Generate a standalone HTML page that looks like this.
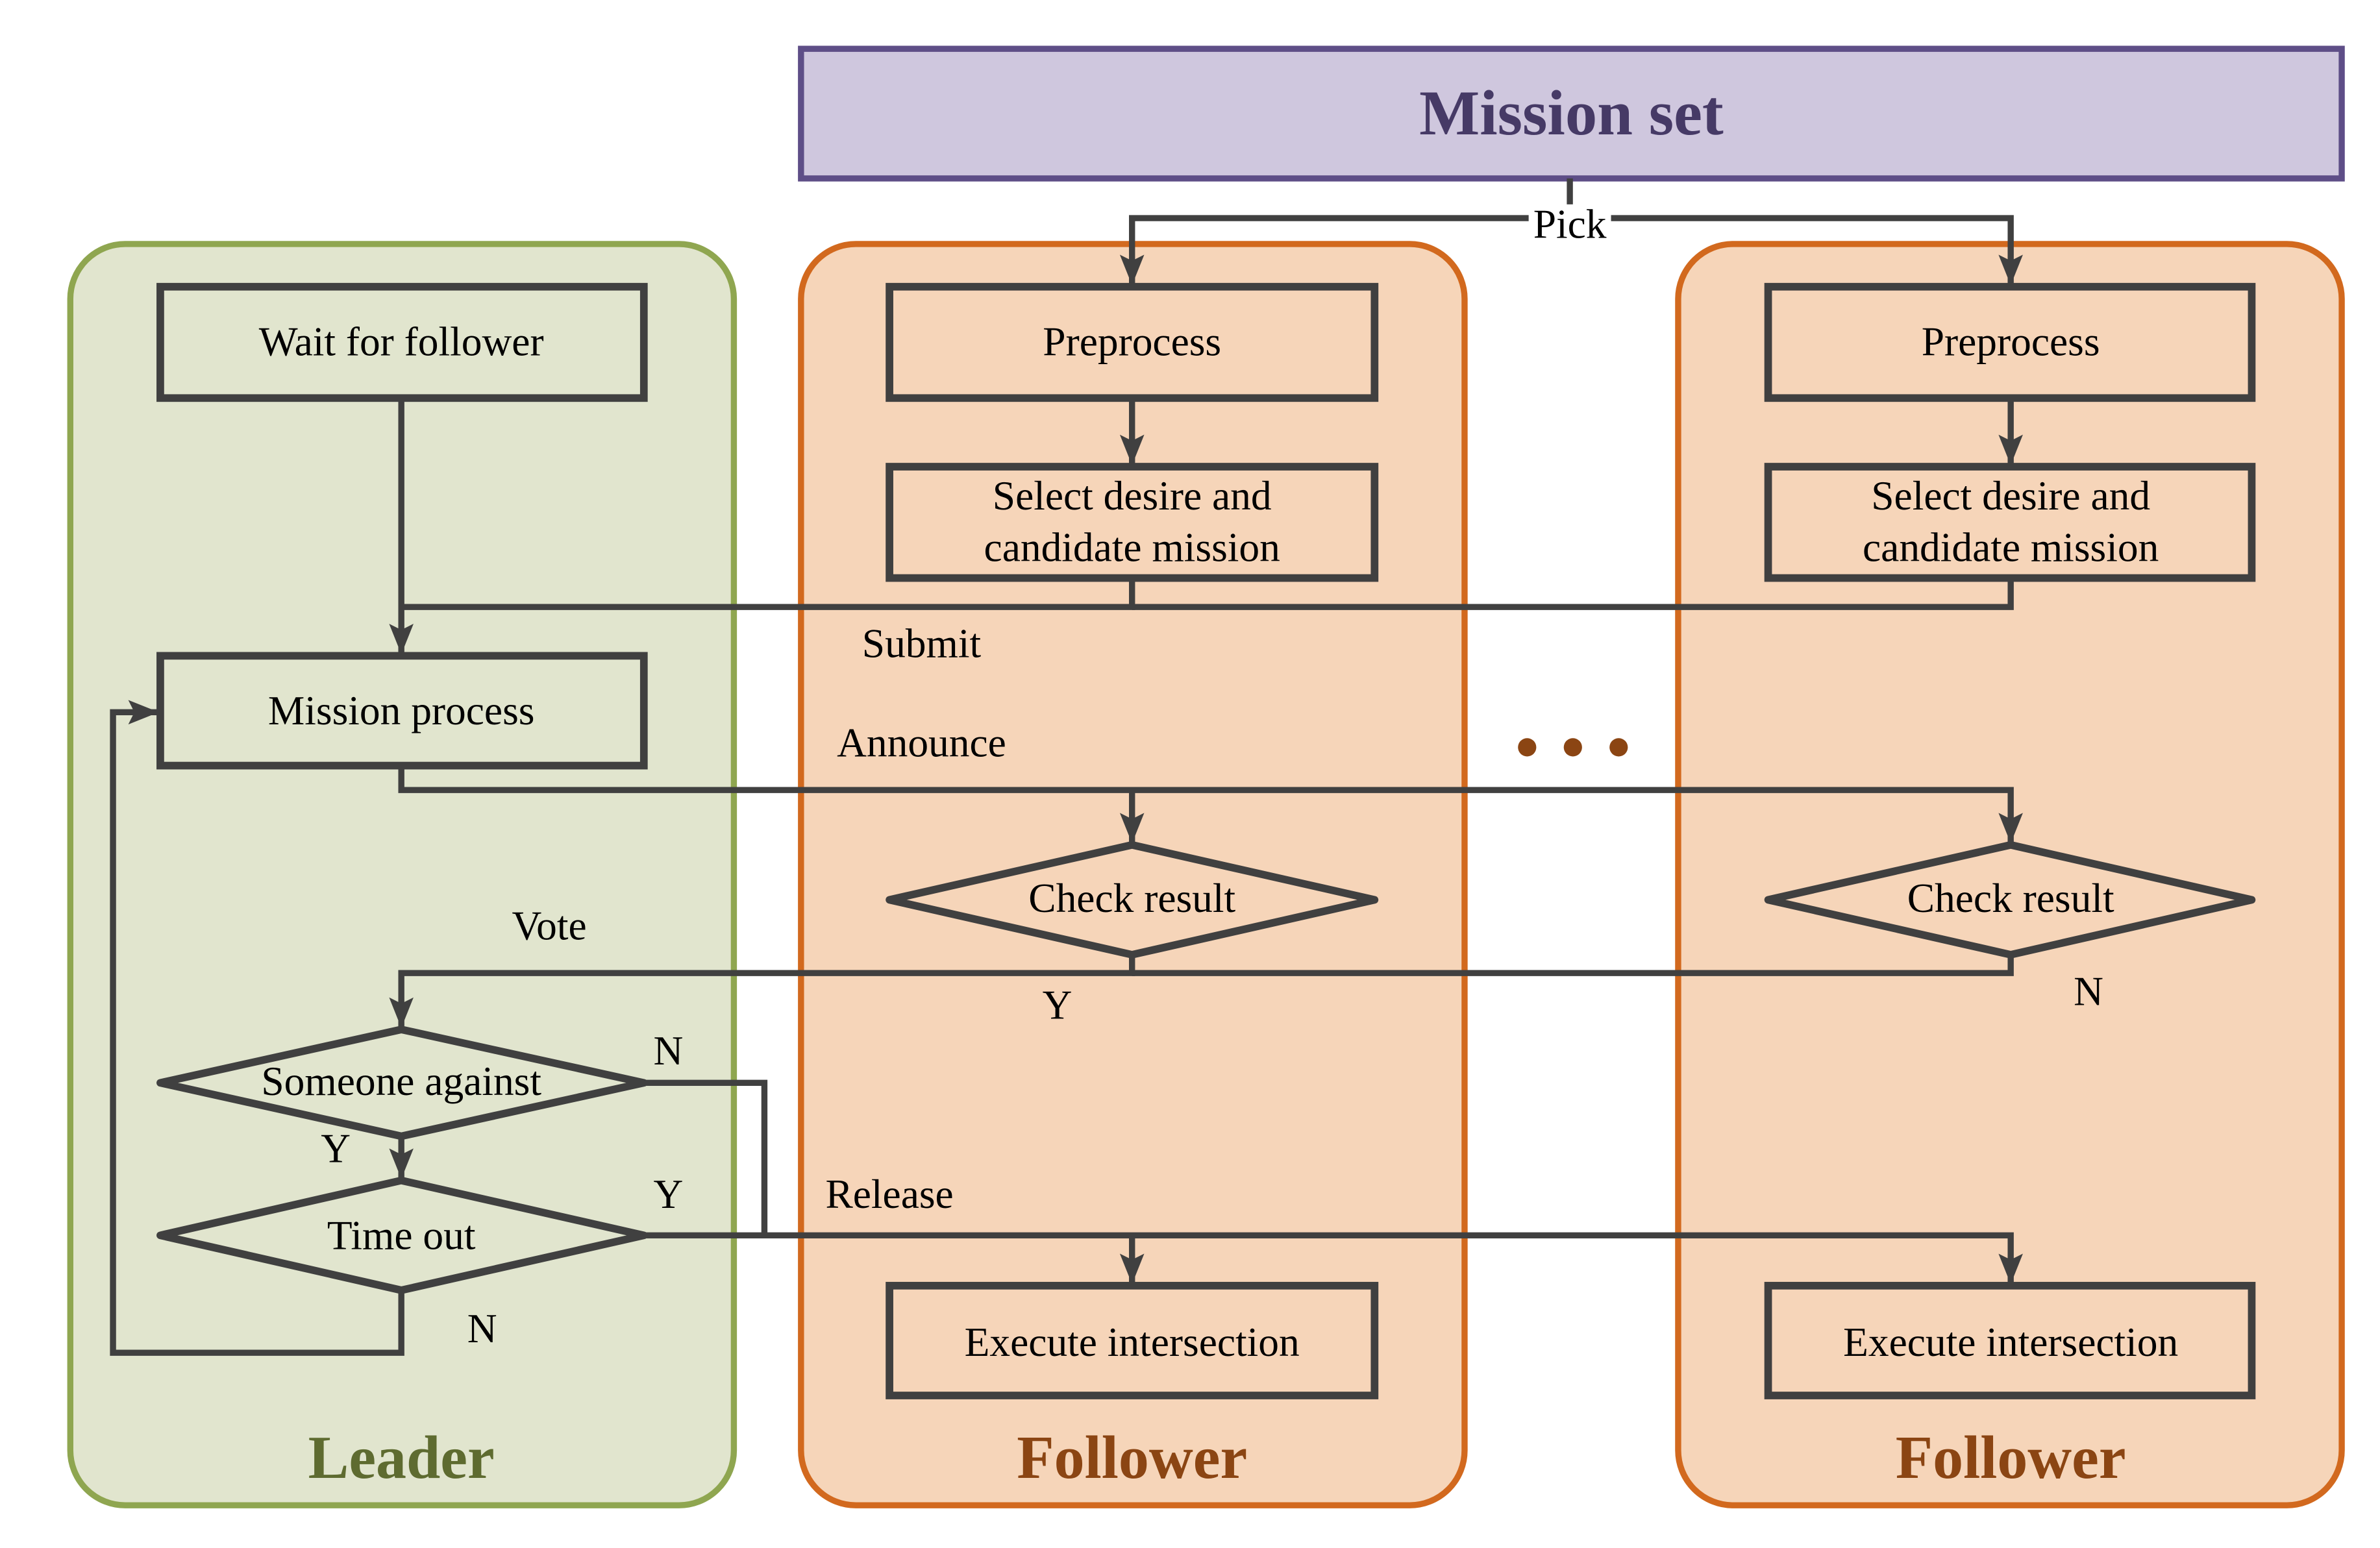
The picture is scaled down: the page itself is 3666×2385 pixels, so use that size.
<!DOCTYPE html>
<html><head><meta charset="utf-8"><style>
html,body{margin:0;padding:0;background:#fff;}
svg{display:block;}
text{font-family:"Liberation Serif",serif;}
</style></head><body>
<svg width="3666" height="2385" viewBox="0 0 1560 1015" xmlns="http://www.w3.org/2000/svg">
<defs>
<marker id="b" markerWidth="20" markerHeight="16" refX="19" refY="8" orient="auto" markerUnits="userSpaceOnUse" viewBox="0 0 20 16">
<path d="M0,0 L20,8 L0,16 L4,8 z" fill="#404040"/>
</marker>
</defs>
<rect x="46" y="160" width="435" height="827" rx="36" fill="#E1E5CE" stroke="#8FA650" stroke-width="4"/>
<rect x="525" y="160" width="435" height="827" rx="36" fill="#F6D5B9" stroke="#D2691E" stroke-width="4"/>
<rect x="1100" y="160" width="435" height="827" rx="36" fill="#F6D5B9" stroke="#D2691E" stroke-width="4"/>
<rect x="525" y="32" width="1010" height="85" fill="#CFC7DE" stroke="#5E4E87" stroke-width="4"/>
<text x="1030" y="88" text-anchor="middle" font-size="42" font-weight="bold" fill="#463A66">Mission set</text>

<g fill="none" stroke="#404040" stroke-width="4" stroke-linejoin="miter">
<path d="M1029,117 V143"/>
<path d="M1029,143 H742 V186" marker-end="url(#b)"/>
<path d="M1029,143 H1318 V186" marker-end="url(#b)"/>
<path d="M742,261 V304" marker-end="url(#b)"/>
<path d="M1318,261 V304" marker-end="url(#b)"/>
<path d="M742,379 V398 H263"/>
<path d="M1318,379 V398 H742"/>
<path d="M263,261 V428" marker-end="url(#b)"/>
<path d="M263,502 V518 H1318 V552" marker-end="url(#b)"/>
<path d="M742,518 V552" marker-end="url(#b)"/>
<path d="M742,626 V638 H263 V673" marker-end="url(#b)"/>
<path d="M1318,626 V638 H742"/>
<path d="M263,745 V772" marker-end="url(#b)"/>
<path d="M422,710 H501 V810"/>
<path d="M422,810 H1318 V841" marker-end="url(#b)"/>
<path d="M742,810 V841" marker-end="url(#b)"/>
<path d="M263,846 V887 H74 V467 H103" marker-end="url(#b)"/>
</g>

<g stroke="#404040" stroke-width="5">
<rect x="105" y="188" width="317" height="73" fill="#E1E5CE"/>
<rect x="105" y="430" width="317" height="72" fill="#E1E5CE"/>
<rect x="583" y="188" width="318" height="73" fill="#F6D5B9"/>
<rect x="1159" y="188" width="317" height="73" fill="#F6D5B9"/>
<rect x="583" y="306" width="318" height="73" fill="#F6D5B9"/>
<rect x="1159" y="306" width="317" height="73" fill="#F6D5B9"/>
<rect x="583" y="843" width="318" height="72" fill="#F6D5B9"/>
<rect x="1159" y="843" width="317" height="72" fill="#F6D5B9"/>
<polygon points="742,554 901,590 742,626 583,590" fill="#F6D5B9" stroke-linejoin="round"/>
<polygon points="1318,554 1476,590 1318,626 1159,590" fill="#F6D5B9" stroke-linejoin="round"/>
<polygon points="263,675 422,710 263,745 105,710" fill="#E1E5CE" stroke-linejoin="round"/>
<polygon points="263,774 422,810 263,846 105,810" fill="#E1E5CE" stroke-linejoin="round"/>
</g>

<rect x="1002" y="134" width="54" height="24" fill="#fff"/>
<g font-size="27" fill="#000" text-anchor="middle">
<text x="1029" y="156">Pick</text>
<text x="263" y="233">Wait for follower</text>
<text x="263" y="475">Mission process</text>
<text x="742" y="233">Preprocess</text>
<text x="1318" y="233">Preprocess</text>
<text x="742" y="334">Select desire and</text>
<text x="742" y="368">candidate mission</text>
<text x="1318" y="334">Select desire and</text>
<text x="1318" y="368">candidate mission</text>
<text x="742" y="598">Check result</text>
<text x="1318" y="598">Check result</text>
<text x="263" y="718">Someone against</text>
<text x="263" y="819">Time out</text>
<text x="742" y="889">Execute intersection</text>
<text x="1318" y="889">Execute intersection</text>
<text x="604" y="431">Submit</text>
<text x="604" y="496">Announce</text>
<text x="360" y="616">Vote</text>
<text x="693" y="668">Y</text>
<text x="1369" y="659">N</text>
<text x="438" y="698">N</text>
<text x="220" y="762">Y</text>
<text x="438" y="792">Y</text>
<text x="583" y="792">Release</text>
<text x="316" y="880">N</text>
</g>
<g fill="#8B4513">
<circle cx="1001" cy="490" r="6"/>
<circle cx="1031" cy="490" r="6"/>
<circle cx="1061" cy="490" r="6"/>
</g>
<text x="263" y="969" text-anchor="middle" font-size="40" font-weight="bold" fill="#5E6B30">Leader</text>
<text x="742" y="969" text-anchor="middle" font-size="40" font-weight="bold" fill="#8B4513">Follower</text>
<text x="1318" y="969" text-anchor="middle" font-size="40" font-weight="bold" fill="#8B4513">Follower</text>
</svg>
</body></html>
